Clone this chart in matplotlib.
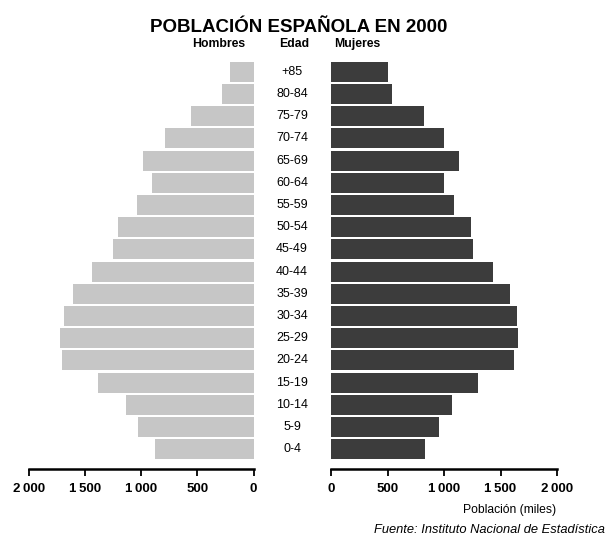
import numpy as np
import matplotlib
matplotlib.use('Agg')
from matplotlib import pyplot as plt
from matplotlib import transforms

plt.rcParams['font.family'] = ['Liberation Sans', 'DejaVu Sans']

# grupos de edad, de abajo arriba
edades = ['0-4', '5-9', '10-14', '15-19', '20-24', '25-29', '30-34', '35-39', '40-44',
          '45-49', '50-54', '55-59', '60-64', '65-69', '70-74', '75-79', '80-84', '+85']
# poblacion en miles
hombres = [879, 1025, 1135, 1386, 1703, 1726, 1685, 1607, 1443,
           1255, 1207, 1040, 906, 980, 786, 560, 282, 208]
mujeres = [829, 959, 1068, 1304, 1619, 1658, 1643, 1587, 1437,
           1254, 1236, 1086, 1003, 1130, 997, 820, 537, 504]
ticks = [0, 500, 1000, 1500, 2000]
tick_labels = ['0', '500', '1\u2009000', '1\u2009500', '2\u2009000']

W, H = 607, 542
fig = plt.figure(figsize=(W/100, H/100), dpi=100)

def px_axes(x0, x1, ytop, ybot):
	return fig.add_axes([x0/W, 1 - ybot/H, (x1 - x0)/W, (ybot - ytop)/H])

axL = px_axes(29, 253.5, 60.6, 469.3)
axR = px_axes(331, 557, 60.6, 469.3)

y = np.arange(len(edades))
axL.barh(y, hombres, height=0.9, color='#c6c6c6')
axR.barh(y, mujeres, height=0.9, color='#3c3c3c')
axL.set_xlim(2000, 0)
axR.set_xlim(0, 2000)

for ax in (axL, axR):
	ax.set_ylim(-0.9, 17.5)
	ax.set_yticks([])
	for s in ('left', 'right', 'top'):
		ax.spines[s].set_visible(False)
	ax.spines['bottom'].set_linewidth(1.8)
	ax.set_xticks(ticks)
	ax.set_xticklabels(tick_labels, fontsize=9.5, fontweight='bold')
	ax.tick_params(axis='x', direction='out', length=5, width=1.3, pad=5)

# etiquetas de edad en el centro
trans = transforms.blended_transform_factory(fig.transFigure, axL.transData)
for i, e in enumerate(edades):
	axL.text(292/W, i, e, transform=trans, ha='center', va='center', fontsize=9, clip_on=False)

fig.text(299/W, 1 - 28/H, 'POBLACIÓN ESPAÑOLA EN 2000', ha='center', va='center',
	fontsize=13.5, fontweight='bold')
fig.text(245/W, 1 - 44/H, 'Hombres', ha='right', va='center', fontsize=8.8, fontweight='bold')
fig.text(294/W, 1 - 44/H, 'Edad', ha='center', va='center', fontsize=8.8, fontweight='bold')
fig.text(334/W, 1 - 44/H, 'Mujeres', ha='left', va='center', fontsize=8.8, fontweight='bold')

fig.text(556/W, 1 - 510/H, 'Población (miles)', ha='right', va='center', fontsize=8.7)
fig.text(605/W, 1 - 530/H, 'Fuente: Instituto Nacional de Estadística', ha='right', va='center',
	fontsize=9.3, style='italic')

fig.savefig('out.png', dpi=100)
